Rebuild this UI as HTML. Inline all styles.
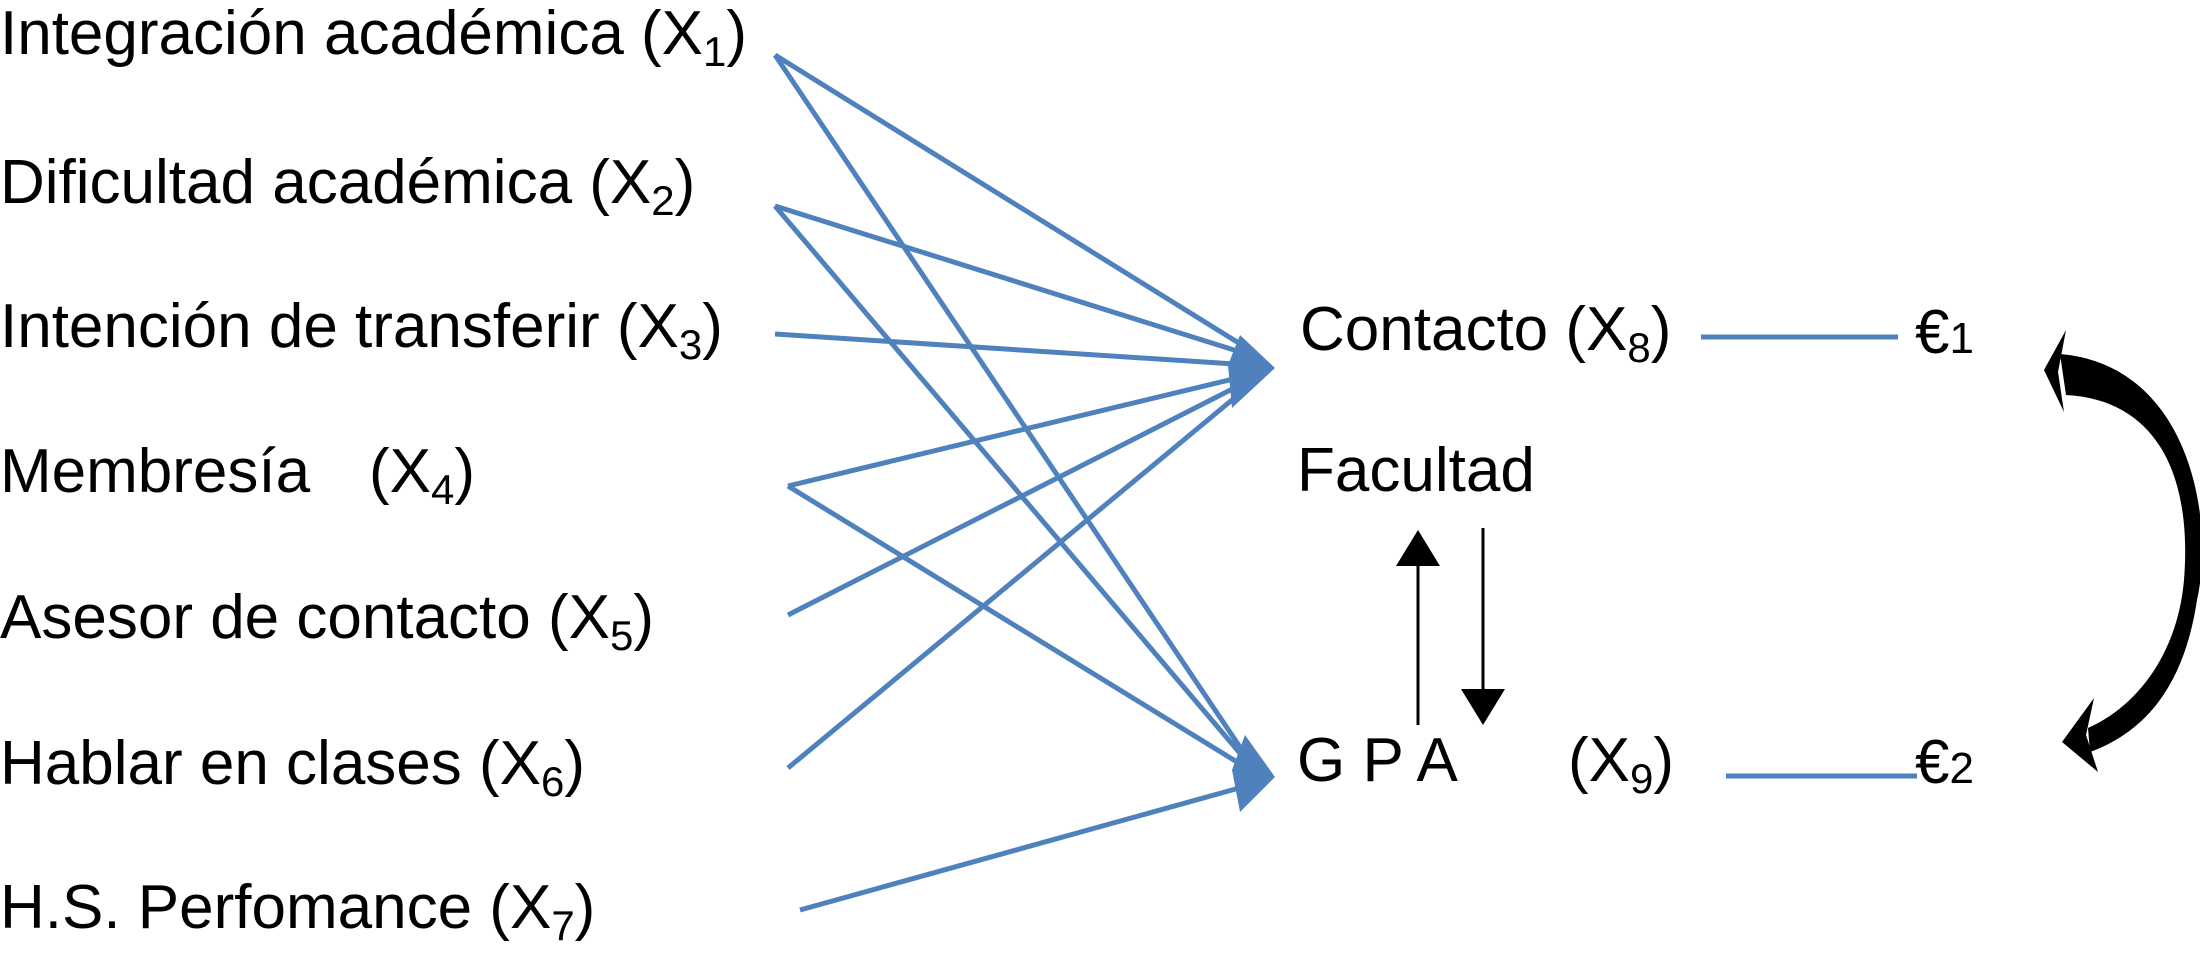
<!DOCTYPE html>
<html><head><meta charset="utf-8"><style>
html,body{margin:0;padding:0;background:#fff;}
svg{display:block;}
text{font-family:"Liberation Sans",Arial,sans-serif;fill:#000;}
</style></head><body>
<svg width="2200" height="959" viewBox="0 0 2200 959" xmlns="http://www.w3.org/2000/svg">
<g font-size="62">
<text x="0" y="54">Integración académica (X<tspan font-size="42" dy="12">1</tspan><tspan dy="-12">)</tspan></text>
<text x="0" y="203">Dificultad académica (X<tspan font-size="42" dy="12">2</tspan><tspan dy="-12">)</tspan></text>
<text x="0" y="347">Intención de transferir (X<tspan font-size="42" dy="12">3</tspan><tspan dy="-12">)</tspan></text>
<text x="0" y="492">Membresía</text>
<text x="369" y="492">(X<tspan font-size="42" dy="12">4</tspan><tspan dy="-12">)</tspan></text>
<text x="0" y="638">Asesor de contacto (X<tspan font-size="42" dy="12">5</tspan><tspan dy="-12">)</tspan></text>
<text x="0" y="784">Hablar en clases (X<tspan font-size="42" dy="12">6</tspan><tspan dy="-12">)</tspan></text>
<text x="0" y="928">H.S. Perfomance (X<tspan font-size="42" dy="12">7</tspan><tspan dy="-12">)</tspan></text>
<text x="1300" y="350">Contacto (X<tspan font-size="42" dy="12">8</tspan><tspan dy="-12">)</tspan></text>
<text x="1297" y="491">Facultad</text>
<text x="1297" y="781">G P A</text>
<text x="1568" y="781">(X<tspan font-size="42" dy="12">9</tspan><tspan dy="-12">)</tspan></text>
<text x="1915" y="353">€<tspan font-size="44">1</tspan></text>
<text x="1915" y="783">€<tspan font-size="44">2</tspan></text>
</g>
<g stroke="#4f81bd" stroke-width="5" fill="none">
<line x1="775" y1="55" x2="1250" y2="350"/>
<line x1="775" y1="55" x2="1250" y2="762"/>
<line x1="775" y1="206" x2="1250" y2="355"/>
<line x1="775" y1="206" x2="1250" y2="765"/>
<line x1="775" y1="334" x2="1250" y2="365"/>
<line x1="788" y1="486" x2="1250" y2="375"/>
<line x1="788" y1="486" x2="1250" y2="770"/>
<line x1="788" y1="615" x2="1250" y2="380"/>
<line x1="788" y1="768" x2="1250" y2="385"/>
<line x1="800" y1="910" x2="1250" y2="785"/>
<line x1="1701" y1="337" x2="1898" y2="337"/>
<line x1="1726" y1="776" x2="1917" y2="776"/>
</g>
<g fill="#4f81bd">
<polygon points="1275,368 1240,335 1228,365 1232,408"/>
<polygon points="1275,777 1245,735 1232,770 1240,812"/>
</g>
<g stroke="#000" stroke-width="3">
<line x1="1418" y1="725" x2="1418" y2="560"/>
<line x1="1483" y1="528" x2="1483" y2="695"/>
</g>
<polygon points="1418,530 1396,566 1440,566" fill="#000"/>
<polygon points="1483,725 1461,689 1505,689" fill="#000"/>
<path d="M2060 354 C2190 365,2215 520,2197 600 C2185 680,2150 730,2090 752 L2088 728 C2140 705,2178 650,2184 580 C2192 480,2160 400,2066 395 Z" fill="#000"/>
<polygon points="2066,330 2044,370 2064,412 2058,372" fill="#000"/>
<polygon points="2094,698 2062,742 2098,772 2086,735" fill="#000"/>
</svg>
</body></html>
